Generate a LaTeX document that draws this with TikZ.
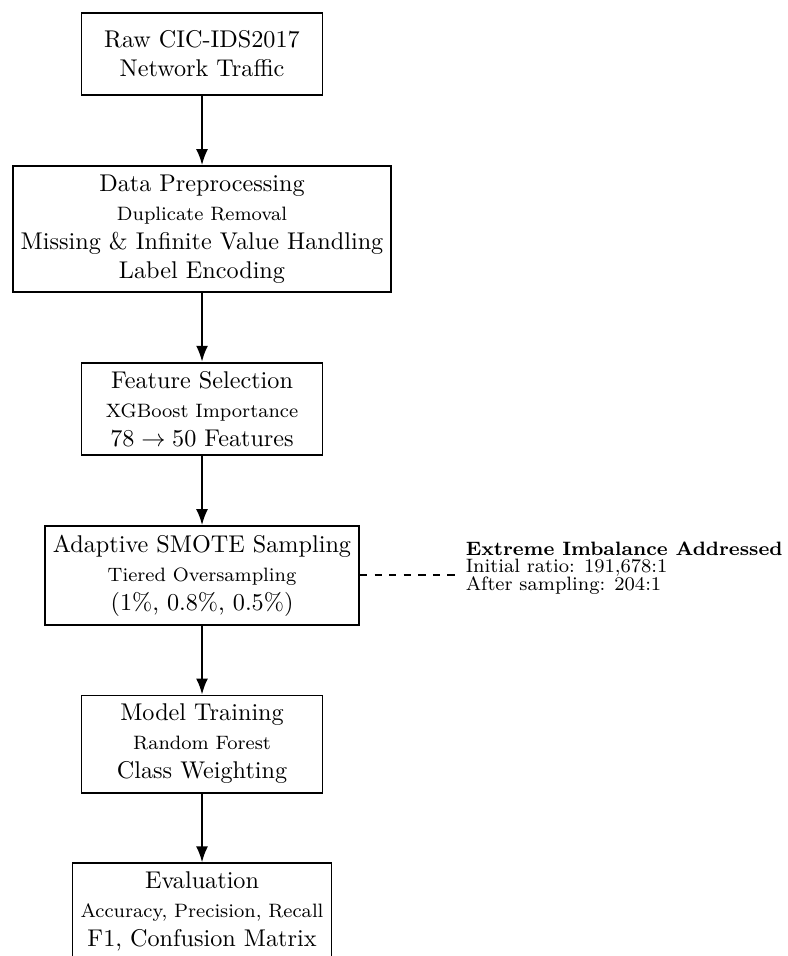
\documentclass[tikz,border=0pt]{standalone}
\usepackage{amsmath}
\usetikzlibrary{arrows.meta,positioning}

\begin{document}
\begin{tikzpicture}[
    node distance=1cm,
    >={Latex},
    stage/.style={rectangle, draw=black, thick, align=center, inner ysep=3.55pt, minimum width=3.5cm, minimum height=1.2cm},
    flow/.style={->, thick},
    link/.style={thick, dashed},
    note/.style={align=left, font=\footnotesize\linespread{0.78}\selectfont},
  ]

  \useasboundingbox (-2.934,-13.10) rectangle (8.496,0.784);

  %% ================= the pipeline, top to bottom =================
  \node[stage] (raw) at (0,0) {Raw CIC-IDS2017\\Network Traffic};
  \node[stage, below=of raw] (prep) {Data Preprocessing\\{\footnotesize Duplicate Removal}\\Missing \& Infinite Value Handling\\Label Encoding};
  \node[stage, below=of prep] (feat) {Feature Selection\\{\footnotesize XGBoost Importance}\\$78 \rightarrow 50$ Features};
  \node[stage, below=of feat] (smote) {Adaptive SMOTE Sampling\\{\footnotesize Tiered Oversampling}\\(1\%, 0.8\%, 0.5\%)};
  \node[stage, below=of smote] (train) {Model Training\\{\footnotesize Random Forest}\\Class Weighting};
  \node[stage, below=of train] (eval) {Evaluation\\{\footnotesize Accuracy, Precision, Recall}\\F1, Confusion Matrix};

  \foreach \a/\b in {raw/prep, prep/feat, feat/smote, smote/train, train/eval} {
    \draw[flow] (\a) -- (\b);
  }

  %% ================= side note on the sampling step =================
  \node[note, right=1.41cm of smote, yshift=3pt] (imb) {\textbf{Extreme Imbalance Addressed}\\Initial ratio: 191,678:1\\After sampling: 204:1};
  \draw[link] (smote.east) -- (smote.east -| imb.west);

\end{tikzpicture}
\end{document}
